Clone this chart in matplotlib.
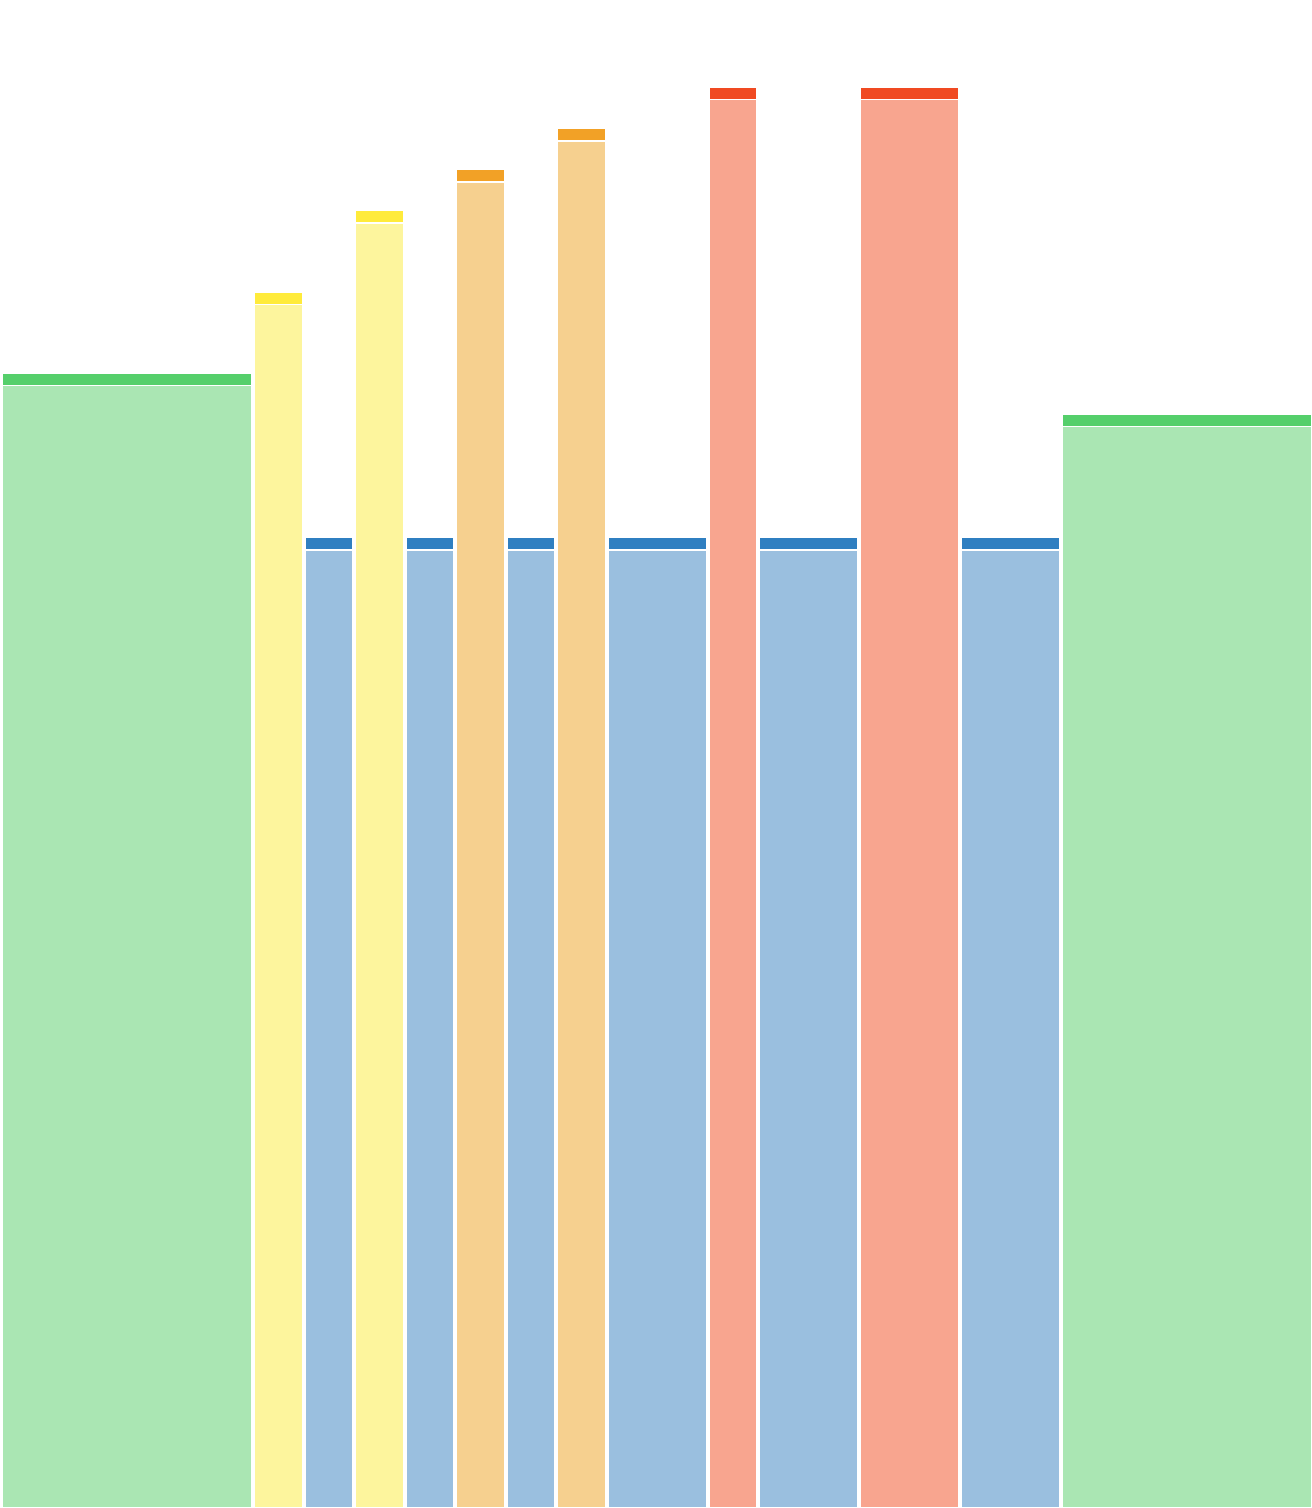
import numpy as np
import matplotlib
matplotlib.use('Agg')
import matplotlib.pyplot as plt

# bar widths (in units), heights and color groups, left to right
widths = [5, 1, 1, 1, 1, 1, 1, 1, 2, 1, 2, 2, 2, 5]
heights = [27.6, 29.57, 23.6, 31.56, 23.6, 32.56, 23.6, 33.56, 23.6, 34.56, 23.6, 34.56, 23.6, 26.6]
groups = ['green', 'yellow', 'blue', 'yellow', 'blue', 'orange', 'blue',
          'orange', 'blue', 'red', 'blue', 'red', 'blue', 'green']

light = {'green': '#aae6b3', 'yellow': '#fdf59d', 'blue': '#9abfdf',
         'orange': '#f6d08f', 'red': '#f8a58f'}
dark = {'green': '#55cf6b', 'yellow': '#ffeb3b', 'blue': '#2f7fc1',
        'orange': '#f2a126', 'red': '#f04a22'}

W, H = 1312, 1508
fig = plt.figure(figsize=(W / 100, H / 100), dpi=100)
ax = fig.add_axes([0, 1 / H, 1, 1507 / H])

lefts = np.concatenate([[0], np.cumsum(widths)[:-1]])
gap = 0.08
strip = 0.27
inner = 0.035

for left, w, h, g in zip(lefts, widths, heights, groups):
    ax.bar(left + gap / 2, h - strip - inner, width=w - gap, align='edge',
           color=light[g], linewidth=0)
    ax.bar(left + gap / 2, strip, bottom=h - strip, width=w - gap, align='edge',
           color=dark[g], linewidth=0)

ax.set_xlim(-0.024, 25.98)
ax.set_ylim(0, 1507 / 41.06)
ax.axis('off')

fig.savefig('out.png', dpi=100, facecolor='white')
